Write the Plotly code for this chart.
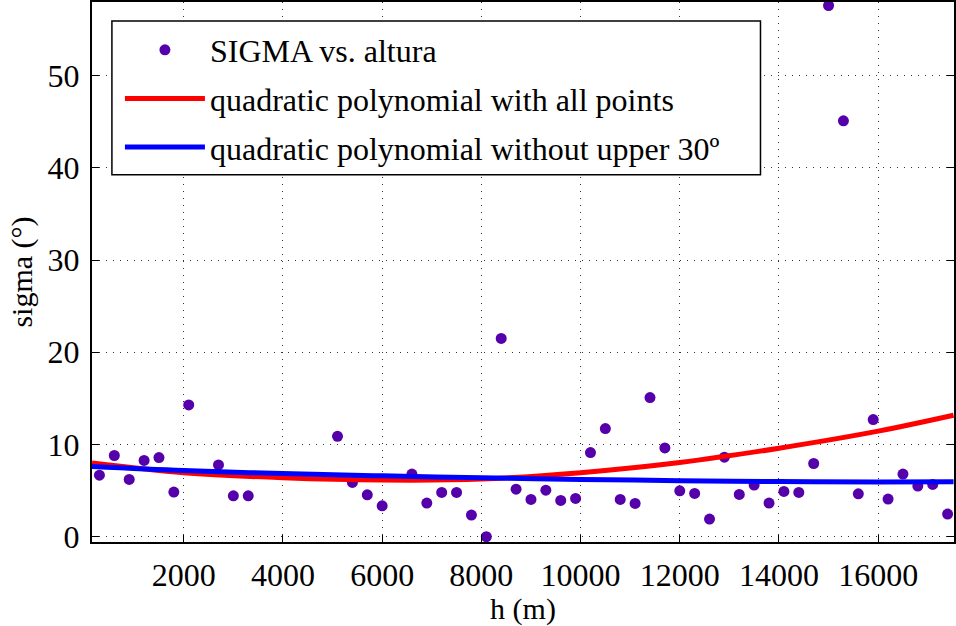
import plotly.graph_objects as go

# data
h = [300, 600, 900, 1200, 1500, 1800, 2100, 2700, 3000, 3300,
     5100, 5400, 5700, 6000, 6600, 6900, 7200, 7500, 7800, 8100,
     8400, 8700, 9000, 9300, 9600, 9900, 10200, 10500, 10800, 11100,
     11400, 11700, 12000, 12300, 12600, 12900, 13200, 13500, 13800, 14100,
     14400, 14700, 15000, 15300, 15600, 15900, 16200, 16500, 16800, 17100, 17400]
sigma = [6.68, 8.81, 6.21, 8.27, 8.59, 4.84, 14.29, 7.79, 4.44, 4.44,
         10.89, 5.89, 4.55, 3.35, 6.79, 3.65, 4.81, 4.81, 2.35, 0.0,
         21.5, 5.16, 4.05, 5.05, 3.94, 4.16, 9.13, 11.73, 4.05, 3.61,
         15.09, 9.63, 4.98, 4.70, 1.92, 8.63, 4.59, 5.60, 3.65, 4.91,
         4.81, 7.94, 57.6, 45.1, 4.65, 12.71, 4.08, 6.79, 5.49, 5.67, 2.46]

fit_h = [150, 2000, 4000, 6000, 8000, 10000, 12000, 14000, 16000, 17520]
fit_all = [8.0, 6.95, 6.4, 6.15, 6.25, 6.95, 8.05, 9.6, 11.45, 13.17]
fit_low = [7.62, 7.18, 6.85, 6.6, 6.4, 6.22, 6.08, 5.98, 5.94, 5.95]

x_ticks = [2000, 4000, 6000, 8000, 10000, 12000, 14000, 16000]
x_tick_text = ["2000", "4000", "6000", "8000", "10000", "12000", "14000", "16000"]
y_ticks = [0, 10, 20, 30, 40, 50]
y_tick_text = ["0", "10", "20", "30", "40", "50"]

serif = "Liberation Serif, Times New Roman, serif"

fig = go.Figure()
fig.add_trace(go.Scatter(x=h, y=sigma, mode="markers", name="SIGMA vs. altura",
                         marker=dict(color="#5500aa", size=11, line=dict(width=0)),
                         legendgroup="a"))
fig.add_trace(go.Scatter(x=fit_h, y=fit_all, mode="lines",
                         name="quadratic polynomial with all points",
                         line=dict(color="#ff0000", width=5, shape="spline"),
                         legendgroup="b"))
fig.add_trace(go.Scatter(x=fit_h, y=fit_low, mode="lines",
                         name="quadratic polynomial without upper 30º",
                         line=dict(color="#0000ff", width=5, shape="spline"),
                         legendgroup="c"))

axis_common = dict(
    showline=True, linecolor="black", linewidth=2,
    ticks="inside", ticklen=7, tickcolor="black", tickwidth=1,
    showgrid=True, gridcolor="#333333", gridwidth=1, griddash="1px,6px",
    zeroline=False, tickfont=dict(family=serif, size=32, color="black"),
)

fig.update_layout(
    width=956, height=626,
    margin=dict(l=92, r=0, t=1, b=84),
    paper_bgcolor="white", plot_bgcolor="white",
    showlegend=True,
    legend=dict(x=0.0324, y=0.962, xanchor="left", yanchor="top",
                bgcolor="rgba(0,0,0,0)", borderwidth=0,
                font=dict(family=serif, size=32, color="black"),
                itemwidth=80, tracegroupgap=4),
    shapes=[dict(type="rect", xref="paper", yref="paper",
                 x0=0.0231, x1=0.7755, y0=0.6802, y1=0.9649,
                 fillcolor="white", line=dict(color="black", width=1.5),
                 layer="above")],
    xaxis=dict(range=[150, 17529], tickvals=x_ticks, ticktext=x_tick_text, mirror=True,
               title=dict(text="h (m)", font=dict(family=serif, size=30, color="black"),
                          standoff=2),
               ticklabelstandoff=4, **axis_common),
    yaxis=dict(range=[-0.57, 57.98], tickvals=y_ticks, ticktext=y_tick_text, mirror="ticks",
               title=dict(text="sigma (°)", font=dict(family=serif, size=30, color="black"),
                          standoff=6),
               ticklabelstandoff=4, **axis_common),
)

fig.write_html("out.html")
